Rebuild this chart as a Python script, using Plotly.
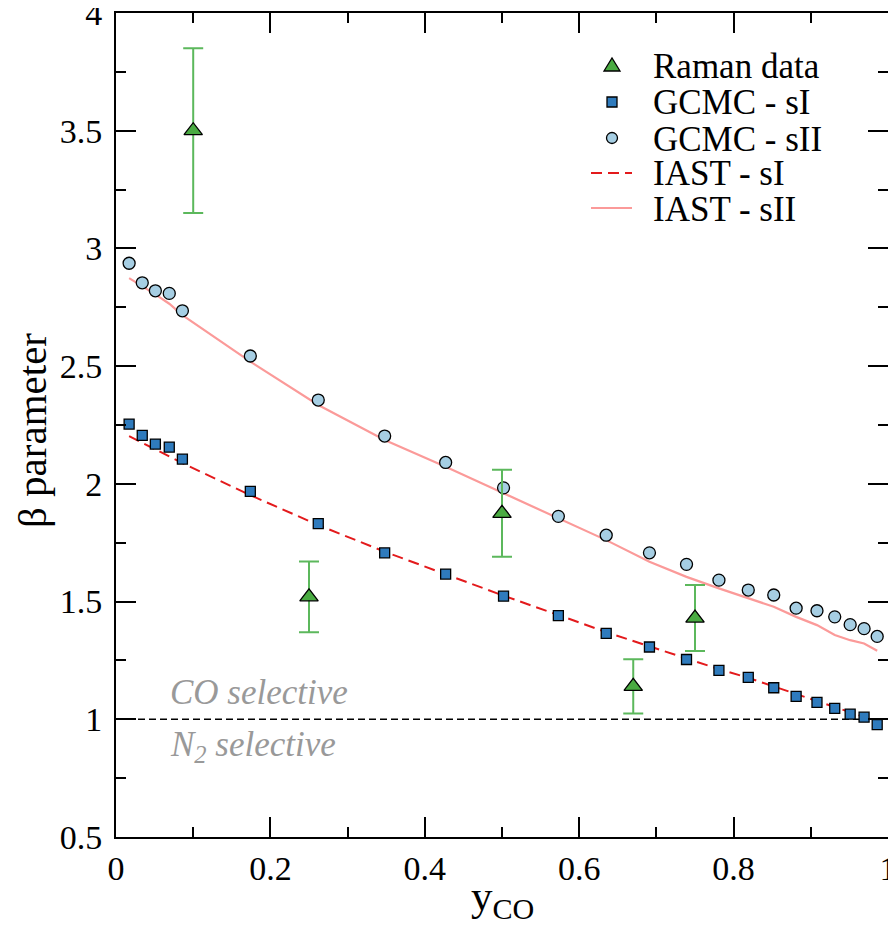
import plotly.graph_objects as go

# GCMC / IAST results (shared composition grid)
x_gcmc = [0.017, 0.034, 0.051, 0.069, 0.086, 0.174, 0.262, 0.348, 0.427, 0.502, 0.573, 0.635,
          0.691, 0.739, 0.781, 0.819, 0.852, 0.881, 0.908, 0.931, 0.951, 0.969, 0.986]
gcmc_sI = [2.254, 2.206, 2.169, 2.156, 2.105, 1.968, 1.831, 1.707, 1.617, 1.523, 1.440, 1.365,
           1.307, 1.254, 1.208, 1.178, 1.134, 1.097, 1.072, 1.046, 1.022, 1.009, 0.977]
gcmc_sII = [2.937, 2.854, 2.820, 2.809, 2.735, 2.543, 2.356, 2.203, 2.091, 1.983, 1.862, 1.782,
            1.707, 1.658, 1.591, 1.549, 1.528, 1.472, 1.461, 1.435, 1.402, 1.385, 1.352]
iast_sI = [2.203, 2.175, 2.148, 2.118, 2.088, 1.952, 1.825, 1.712, 1.615, 1.525, 1.443, 1.370,
           1.310, 1.258, 1.213, 1.176, 1.140, 1.108, 1.078, 1.052, 1.030, 1.010, 0.995]
iast_sII = [2.874, 2.840, 2.805, 2.765, 2.717, 2.519, 2.335, 2.186, 2.073, 1.960, 1.853, 1.761,
            1.669, 1.605, 1.556, 1.513, 1.478, 1.435, 1.400, 1.358, 1.336, 1.322, 1.291]

# Raman experiments
x_raman = [0.10, 0.25, 0.50, 0.67, 0.75]
raman = [3.50, 1.52, 1.875, 1.14, 1.43]
raman_err = [0.35, 0.15, 0.185, 0.115, 0.14]

legend_labels = ["Raman data", "GCMC - sI", "GCMC - sII", "IAST - sI", "IAST - sII"]

FONT = "Liberation Serif"
C_RAMAN, C_ERR = "#4aab42", "#5cb85c"
C_SI, C_SII = "#2f7bbd", "#a6cee3"
C_IAST_SI, C_IAST_SII = "#e31a1c", "#fb9a99"

fig = go.Figure()

# y = 1 separator
fig.add_trace(go.Scatter(x=[0, 1], y=[1, 1], mode="lines", showlegend=False,
                         line=dict(color="black", width=1.5, dash="7px,4px"), hoverinfo="skip"))

fig.add_trace(go.Scatter(x=x_gcmc, y=iast_sI, mode="lines", name="IAST - sI",
                         line=dict(color=C_IAST_SI, width=2, dash="11px,6px")))
fig.add_trace(go.Scatter(x=x_gcmc, y=iast_sII, mode="lines", name="IAST - sII",
                         line=dict(color=C_IAST_SII, width=2.2)))

fig.add_trace(go.Scatter(x=x_gcmc, y=gcmc_sI, mode="markers", name="GCMC - sI",
                         marker=dict(symbol="square", size=10, color=C_SI,
                                     line=dict(color="black", width=1.3))))
fig.add_trace(go.Scatter(x=x_gcmc, y=gcmc_sII, mode="markers", name="GCMC - sII",
                         marker=dict(symbol="circle", size=12, color=C_SII,
                                     line=dict(color="black", width=1.3))))

fig.add_trace(go.Scatter(x=x_raman, y=raman, mode="markers", name="Raman data",
                         marker=dict(symbol="triangle-up", size=16, color=C_RAMAN,
                                     line=dict(color="black", width=1.3)),
                         error_y=dict(type="data", array=raman_err, color=C_ERR,
                                      thickness=2, width=10)))

# the page body adds an 8px offset, so the figure is 8px smaller than the window.
# helpers below work in window pixels; plot area spans x 116..888, y 13..837
def px_x(p):
    return (p - 116) / 772


def px_y(p):
    return (837 - p) / 824


# hand-made legend (tighter rows than plotly's own legend)
rows = [66, 102, 138, 173, 208]
sym_x = px_x(612)
for label, r in zip(legend_labels, rows):
    fig.add_annotation(x=px_x(651), y=px_y(r + 1), xref="paper", yref="paper", text=label,
                       showarrow=False, xanchor="left", yanchor="middle",
                       font=dict(family=FONT, size=35, color="black"))

pix = dict(xref="paper", yref="paper", xsizemode="pixel", ysizemode="pixel", xanchor=sym_x)
fig.add_shape(type="path", path="M -8,-5 L 8,-5 L 0,8 Z", yanchor=px_y(rows[0]),
              fillcolor=C_RAMAN, line=dict(color="black", width=1.3), **pix)
fig.add_shape(type="rect", x0=-5, x1=5, y0=-5, y1=5, yanchor=px_y(rows[1]),
              fillcolor=C_SI, line=dict(color="black", width=1.3), **pix)
fig.add_shape(type="circle", x0=-5.5, x1=5.5, y0=-5.5, y1=5.5, yanchor=px_y(rows[2]),
              fillcolor=C_SII, line=dict(color="black", width=1.3), **pix)
fig.add_shape(type="line", x0=-21, x1=20, y0=0, y1=0, yanchor=px_y(rows[3]),
              line=dict(color=C_IAST_SI, width=2, dash="11px,6px"), **pix)
fig.add_shape(type="line", x0=-21, x1=20, y0=0, y1=0, yanchor=px_y(rows[4]),
              line=dict(color=C_IAST_SII, width=2.2), **pix)

fig.add_annotation(x=0.067, y=1.115, xref="x", yref="y", text="<i>CO selective</i>",
                   showarrow=False, xanchor="left", yanchor="middle",
                   font=dict(family=FONT, size=35, color="#999999"))
fig.add_annotation(x=0.067, y=0.885, xref="x", yref="y", text="<i>N<sub>2</sub> selective</i>",
                   showarrow=False, xanchor="left", yanchor="middle",
                   font=dict(family=FONT, size=35, color="#999999"))

# axis titles
fig.add_annotation(x=0.5, y=px_y(870), xref="paper", yref="paper", text="y<sub>CO</sub>",
                   showarrow=False, xanchor="center", yanchor="top",
                   font=dict(family=FONT, size=43, color="black"))
fig.add_annotation(x=px_x(32), y=px_y(431), xref="paper", yref="paper", text="β parameter",
                   showarrow=False, xanchor="center", yanchor="middle", textangle=-90,
                   font=dict(family=FONT, size=41, color="black"))

axis_common = dict(showline=True, linewidth=2, linecolor="black", mirror="allticks",
                   ticks="inside", ticklen=20, tickwidth=2, tickcolor="black",
                   showgrid=False, zeroline=False, automargin=False,
                   ticklabeloverflow="allow",
                   tickfont=dict(family=FONT, size=34, color="black"))

fig.update_xaxes(range=[0, 1], dtick=0.2, tick0=0,
                 minor=dict(ticks="inside", ticklen=10, tickwidth=2, tickcolor="black", dtick=0.1),
                 **axis_common)
fig.update_yaxes(range=[0.5, 4], dtick=0.5, tick0=0.5, ticklabelstandoff=5,
                 minor=dict(ticks="inside", ticklen=10, tickwidth=2, tickcolor="black", dtick=0.25),
                 **axis_common)

fig.update_layout(
    width=888, height=918,
    margin=dict(l=108, r=8, t=5, b=89),
    plot_bgcolor="white", paper_bgcolor="white",
    font=dict(family=FONT, color="black"),
    showlegend=False,
)

fig.write_html("out.html")
